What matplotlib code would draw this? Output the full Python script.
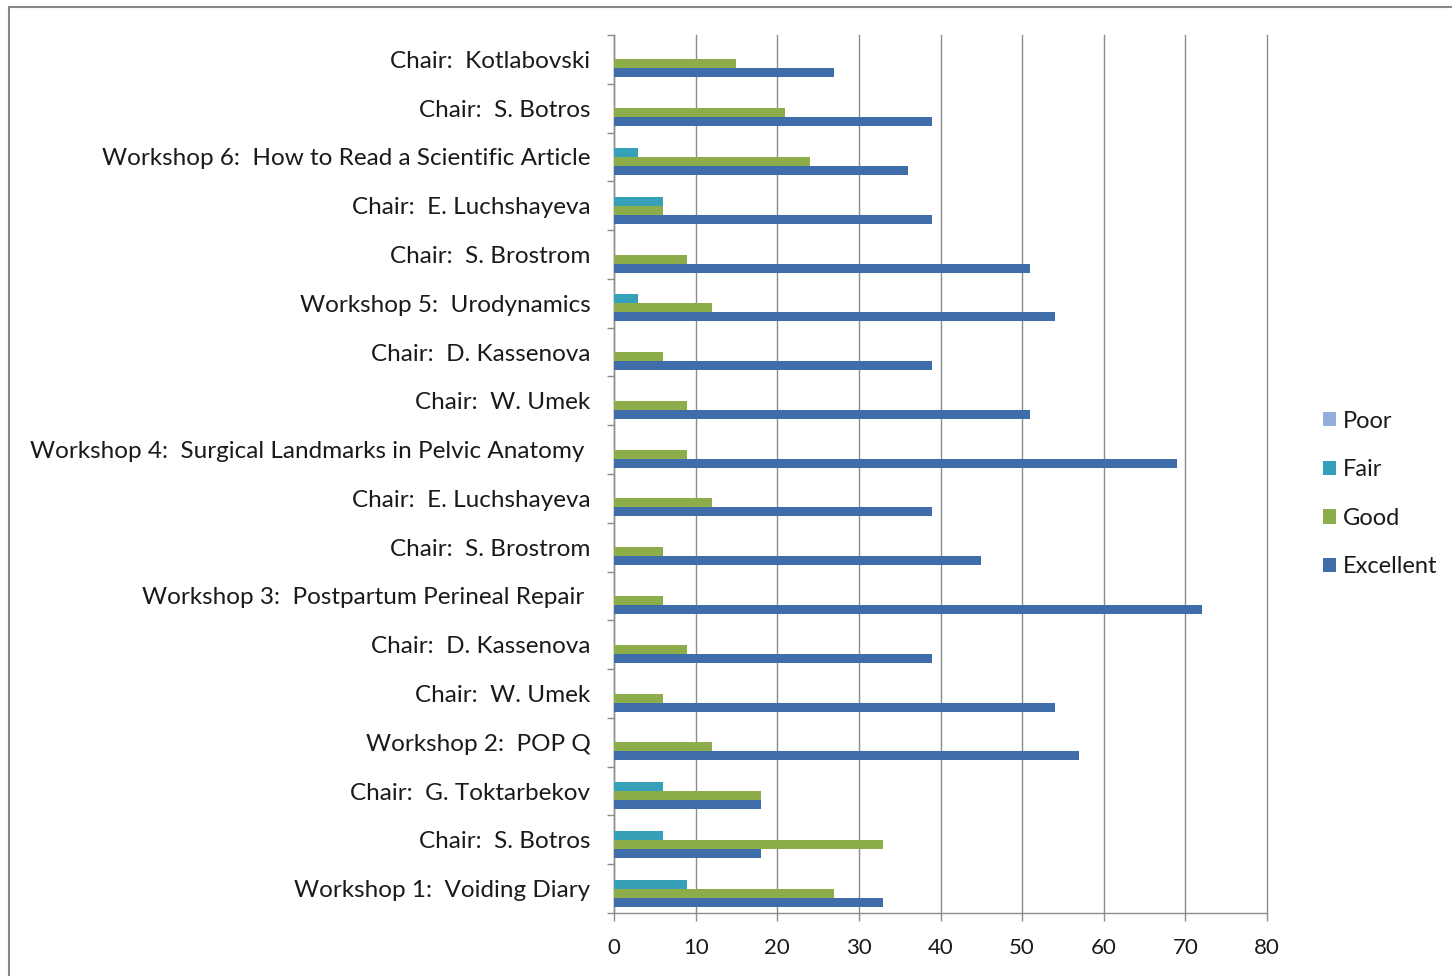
import numpy as np
import matplotlib.pyplot as plt
from matplotlib.patches import Rectangle

# --- data (listed top to bottom as shown) -------------------------------------
sessions = [
    "Chair:  Kotlabovski",
    "Chair:  S. Botros",
    "Workshop 6:  How to Read a Scientific Article",
    "Chair:  E. Luchshayeva",
    "Chair:  S. Brostrom",
    "Workshop 5:  Urodynamics",
    "Chair:  D. Kassenova",
    "Chair:  W. Umek",
    "Workshop 4:  Surgical Landmarks in Pelvic Anatomy ",
    "Chair:  E. Luchshayeva",
    "Chair:  S. Brostrom",
    "Workshop 3:  Postpartum Perineal Repair ",
    "Chair:  D. Kassenova",
    "Chair:  W. Umek",
    "Workshop 2:  POP Q",
    "Chair:  G. Toktarbekov",
    "Chair:  S. Botros",
    "Workshop 1:  Voiding Diary",
]
poor = [0, 0, 0, 0, 0, 0, 0, 0, 0, 0, 0, 0, 0, 0, 0, 0, 0, 0]
fair = [0, 0, 3, 6, 0, 3, 0, 0, 0, 0, 0, 0, 0, 0, 0, 6, 6, 9]
good = [15, 21, 24, 6, 9, 12, 6, 9, 9, 12, 6, 6, 9, 6, 12, 18, 33, 27]
excellent = [27, 39, 36, 39, 51, 54, 39, 51, 69, 39, 45, 72, 39, 54, 57, 18, 18, 33]

series = ["Poor", "Fair", "Good", "Excellent"]
colors = {"Poor": "#93AEDB", "Fair": "#35A0B8", "Good": "#8DAD4A", "Excellent": "#3F6DA9"}
values = {"Poor": poor, "Fair": fair, "Good": good, "Excellent": excellent}

plt.rcParams["font.family"] = ["Lato", "DejaVu Sans"]

fig = plt.figure(figsize=(14.52, 9.76), dpi=100)
# chart frame (runs off the right and bottom edges)
fig.patches.append(Rectangle((8.5 / 1452, -0.01), 1.02, 1 - 6.5 / 976 + 0.01,
                             transform=fig.transFigure, fill=False,
                             edgecolor="#888888", lw=1.5))

ax = fig.add_axes([614 / 1452, 1 - 913 / 976, (1267 - 614) / 1452, (913 - 35) / 976])

n = len(sessions)
ypos = np.arange(n)[::-1]          # first session at the top
h = 0.185
offsets = {"Poor": 1.5 * h, "Fair": 0.5 * h, "Good": -0.5 * h, "Excellent": -1.5 * h}

handles = []
for name in series:
    b = ax.barh(ypos + offsets[name], values[name], height=h,
                color=colors[name], label=name, zorder=3)
    handles.append(b)

ax.set_xlim(0, 80)
ax.set_ylim(-0.5, n - 0.5)
ax.set_xticks(np.arange(0, 81, 10))
ax.xaxis.grid(True, color="#8C8C8C", lw=1.0, zorder=0)
for gl in ax.get_xgridlines():
    gl.set_clip_on(False)

# category labels on minor ticks, boundary ticks on major
ax.set_yticks(np.arange(-0.5, n, 1.0))
ax.set_yticklabels([])
ax.set_yticks(ypos, labels=sessions, minor=True)
ax.tick_params(axis="y", which="minor", length=0, pad=17, labelsize=17.5, labelcolor="#1A1A1A")
ax.tick_params(axis="y", which="major", length=5, color="#8C8C8C", width=1)
ax.tick_params(axis="x", length=6, color="#8C8C8C", width=1, pad=12,
               labelsize=16, labelcolor="#1A1A1A")

for s in ["top", "right"]:
    ax.spines[s].set_visible(False)
for s in ["left", "bottom"]:
    ax.spines[s].set_color("#8C8C8C")
    ax.spines[s].set_linewidth(1.0)

fig.legend(handles=handles, labels=series, loc="center left",
           bbox_to_anchor=(1316 / 1452, 1 - 494 / 976), frameon=False,
           fontsize=17, handlelength=0.55, handleheight=0.55, handletextpad=0.3,
           labelspacing=1.17, labelcolor="#1A1A1A", borderaxespad=0, borderpad=0.3)

fig.savefig("out.png", dpi=100, facecolor="white")
